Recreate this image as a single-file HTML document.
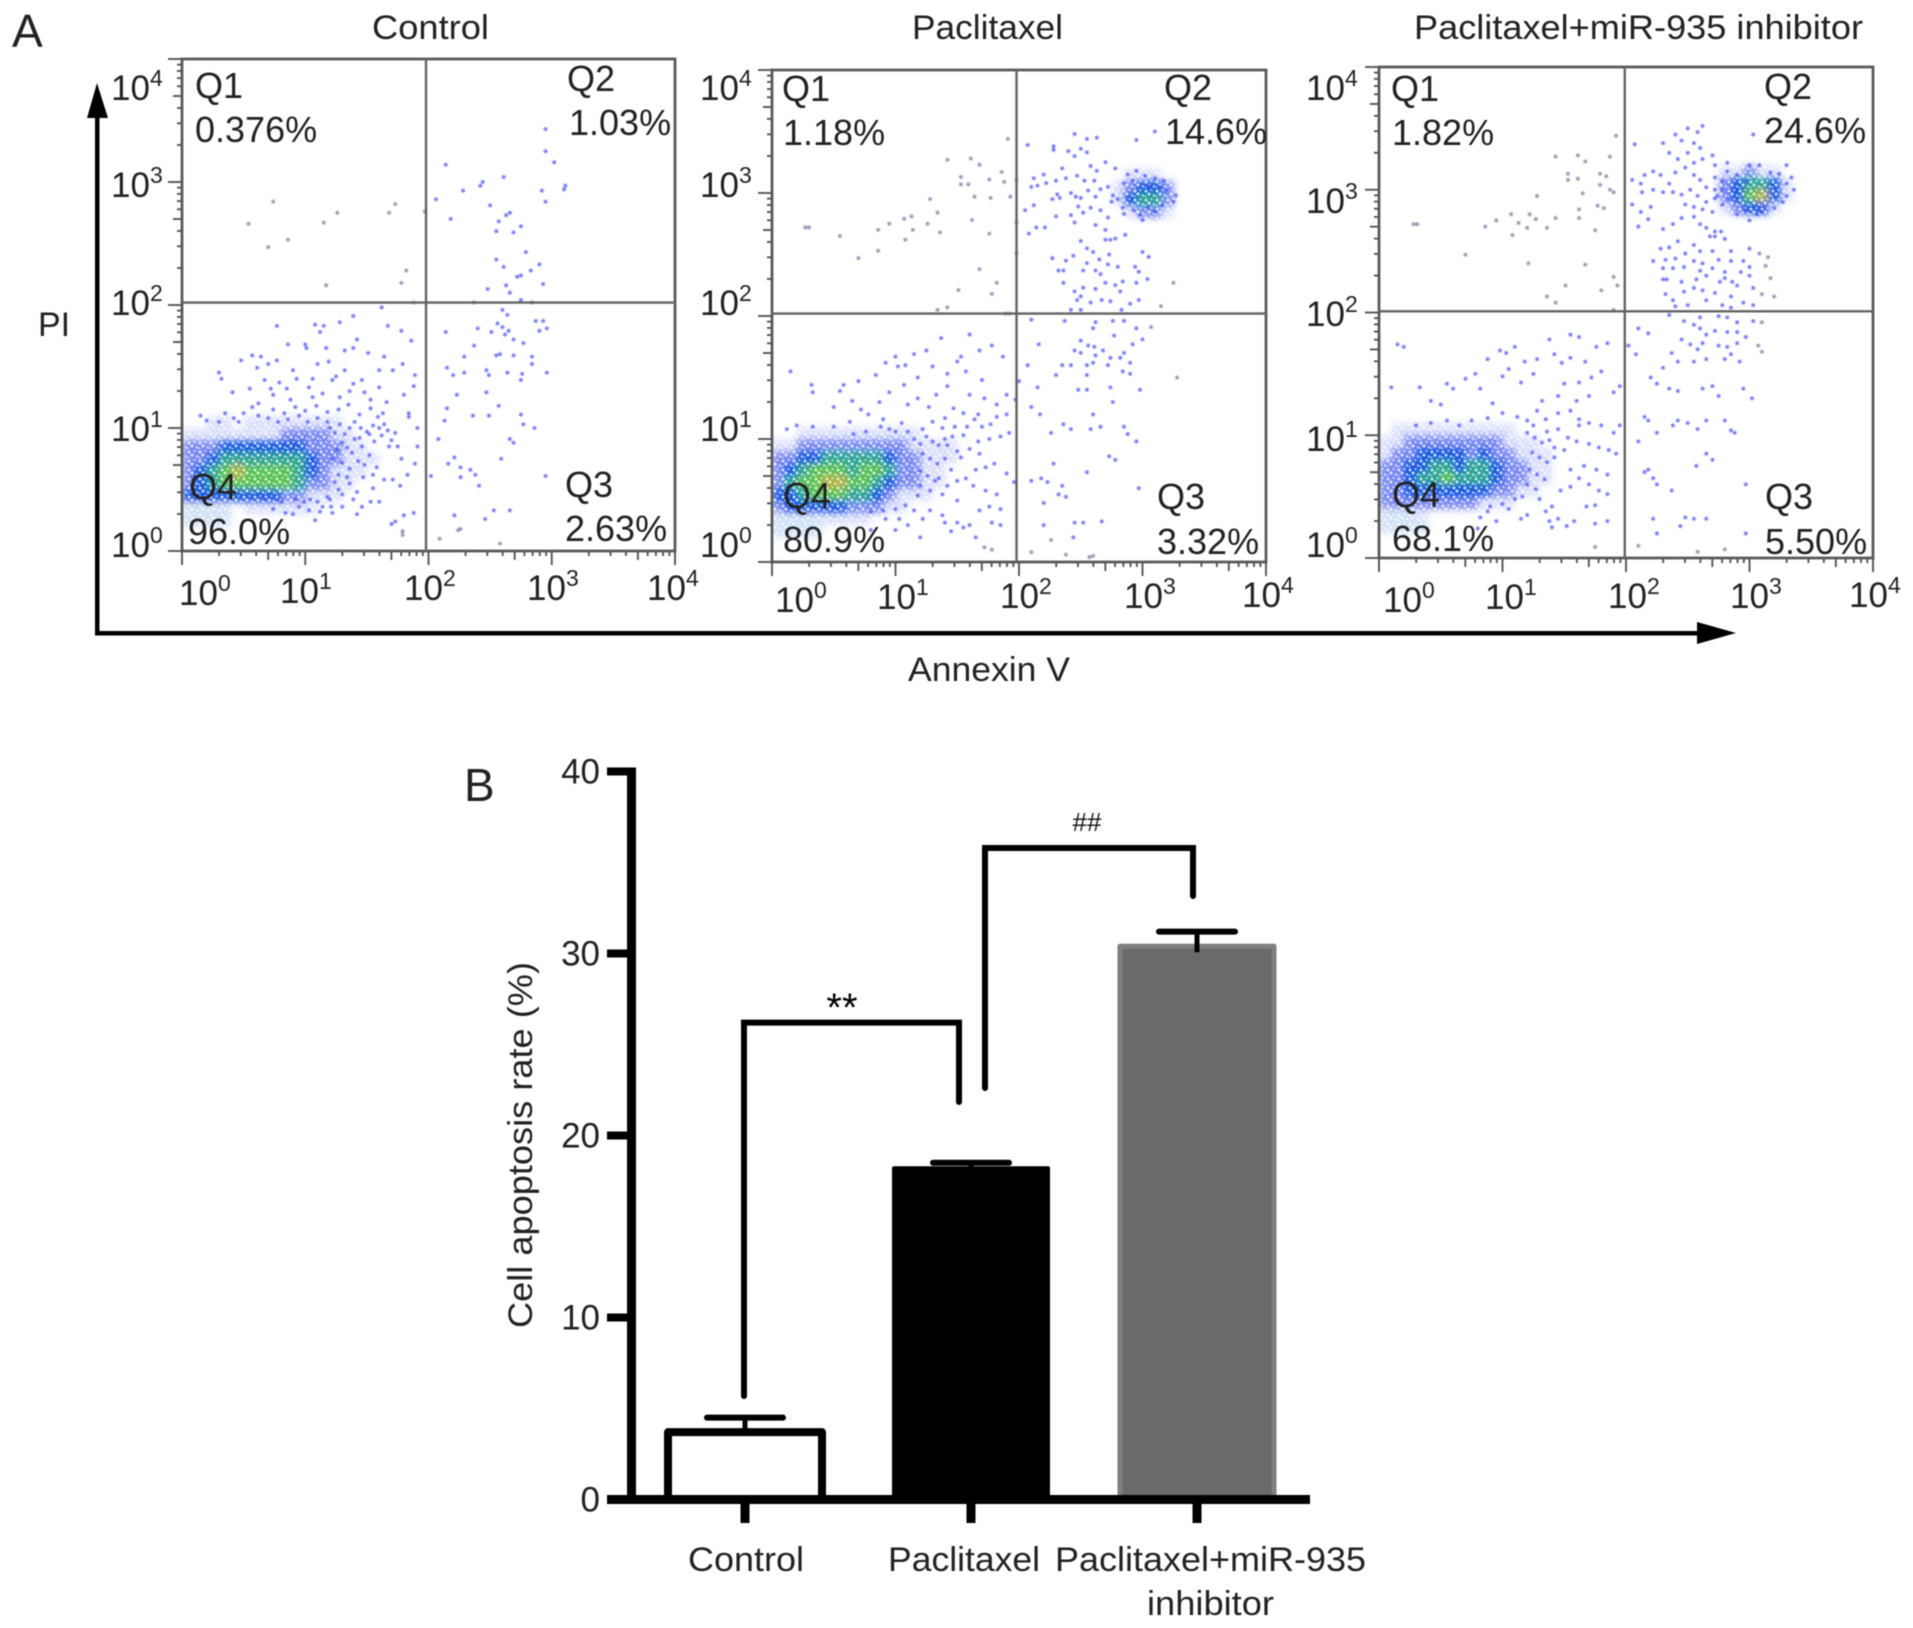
<!DOCTYPE html>
<html lang="en">
<head>
<meta charset="utf-8">
<title>Flow cytometry apoptosis panels and apoptosis rate bars</title>
<style>
html,body{margin:0;padding:0;background:#fff;}
svg{display:block;filter:blur(0.45px);}
text{font-family:"Liberation Sans",sans-serif;fill:#222;}
.tick-sup{font-size:23px;}
</style>
</head>
<body>
<svg id="figure" xmlns="http://www.w3.org/2000/svg" width="1913" height="1628" viewBox="0 0 1913 1628">
<defs>
<filter id="soft" x="-5%" y="-5%" width="110%" height="110%"><feGaussianBlur stdDeviation="0.5"/></filter>
<filter id="densityBlur" x="-10%" y="-10%" width="120%" height="120%"><feGaussianBlur stdDeviation="3.4"/></filter>
<pattern id="speckle" width="11" height="9" patternUnits="userSpaceOnUse">
<circle cx="2" cy="2" r="1.4" fill="#fff" opacity=".8"/>
<circle cx="7.5" cy="1" r="1.1" fill="#fff" opacity=".6"/>
<circle cx="5" cy="5" r="1.5" fill="#fff" opacity=".75"/>
<circle cx="10" cy="6.5" r="1.2" fill="#fff" opacity=".7"/>
<circle cx="1.5" cy="7.5" r="1.0" fill="#fff" opacity=".55"/>
</pattern>
<clipPath id="clip-control"><rect x="182" y="59" width="493" height="492"/></clipPath>
<clipPath id="clip-paclitaxel"><rect x="772" y="70" width="494" height="492"/></clipPath>
<clipPath id="clip-inhibitor"><rect x="1379" y="67" width="494" height="491"/></clipPath>
</defs>
<rect x="0" y="0" width="1913" height="1628" fill="#fff"/>

<text x="12" y="47" font-size="46">A</text>
<text x="464" y="801" font-size="46">B</text>

<text x="372" y="39" font-size="34" textLength="117" lengthAdjust="spacingAndGlyphs">Control</text>
<text x="912" y="39" font-size="34" textLength="151" lengthAdjust="spacingAndGlyphs">Paclitaxel</text>
<text x="1414" y="39" font-size="34" textLength="449" lengthAdjust="spacingAndGlyphs">Paclitaxel+miR-935 inhibitor</text>

<g id="flow-layer"></g>

<g font-size="36">
<text x="195" y="98">Q1</text>
<text x="195" y="142">0.376%</text>
<text x="567" y="91">Q2</text>
<text x="569" y="135">1.03%</text>
<text x="565" y="497">Q3</text>
<text x="565" y="541">2.63%</text>
<text x="189" y="499">Q4</text>
<text x="188" y="544">96.0%</text>
</g>
<g font-size="36">
<text x="782" y="101">Q1</text>
<text x="783" y="145">1.18%</text>
<text x="1164" y="100">Q2</text>
<text x="1165" y="144">14.6%</text>
<text x="1157" y="509">Q3</text>
<text x="1157" y="554">3.32%</text>
<text x="783" y="508">Q4</text>
<text x="783" y="552">80.9%</text>
</g>
<g font-size="36">
<text x="1391" y="101">Q1</text>
<text x="1392" y="145">1.82%</text>
<text x="1764" y="99">Q2</text>
<text x="1764" y="143">24.6%</text>
<text x="1765" y="509">Q3</text>
<text x="1765" y="554">5.50%</text>
<text x="1392" y="507">Q4</text>
<text x="1392" y="551">68.1%</text>
</g>

<g font-size="35">
<text x="111" y="100">10<tspan class="tick-sup" dy="-14">4</tspan></text>
<text x="111" y="197">10<tspan class="tick-sup" dy="-14">3</tspan></text>
<text x="111" y="315">10<tspan class="tick-sup" dy="-14">2</tspan></text>
<text x="111" y="441">10<tspan class="tick-sup" dy="-14">1</tspan></text>
<text x="111" y="557">10<tspan class="tick-sup" dy="-14">0</tspan></text>
<text x="179" y="605">10<tspan class="tick-sup" dy="-14">0</tspan></text>
<text x="280" y="603">10<tspan class="tick-sup" dy="-14">1</tspan></text>
<text x="404" y="600">10<tspan class="tick-sup" dy="-14">2</tspan></text>
<text x="527" y="600">10<tspan class="tick-sup" dy="-14">3</tspan></text>
<text x="647" y="600">10<tspan class="tick-sup" dy="-14">4</tspan></text>
</g>
<g font-size="35">
<text x="700" y="100">10<tspan class="tick-sup" dy="-14">4</tspan></text>
<text x="700" y="197">10<tspan class="tick-sup" dy="-14">3</tspan></text>
<text x="700" y="315">10<tspan class="tick-sup" dy="-14">2</tspan></text>
<text x="700" y="441">10<tspan class="tick-sup" dy="-14">1</tspan></text>
<text x="700" y="557">10<tspan class="tick-sup" dy="-14">0</tspan></text>
<text x="775" y="612">10<tspan class="tick-sup" dy="-14">0</tspan></text>
<text x="877" y="609">10<tspan class="tick-sup" dy="-14">1</tspan></text>
<text x="1000" y="608">10<tspan class="tick-sup" dy="-14">2</tspan></text>
<text x="1124" y="608">10<tspan class="tick-sup" dy="-14">3</tspan></text>
<text x="1242" y="607">10<tspan class="tick-sup" dy="-14">4</tspan></text>
</g>
<g font-size="35">
<text x="1306" y="100">10<tspan class="tick-sup" dy="-14">4</tspan></text>
<text x="1306" y="213">10<tspan class="tick-sup" dy="-14">3</tspan></text>
<text x="1306" y="326">10<tspan class="tick-sup" dy="-14">2</tspan></text>
<text x="1306" y="451">10<tspan class="tick-sup" dy="-14">1</tspan></text>
<text x="1306" y="557">10<tspan class="tick-sup" dy="-14">0</tspan></text>
<text x="1383" y="612">10<tspan class="tick-sup" dy="-14">0</tspan></text>
<text x="1485" y="609">10<tspan class="tick-sup" dy="-14">1</tspan></text>
<text x="1608" y="608">10<tspan class="tick-sup" dy="-14">2</tspan></text>
<text x="1730" y="608">10<tspan class="tick-sup" dy="-14">3</tspan></text>
<text x="1849" y="607">10<tspan class="tick-sup" dy="-14">4</tspan></text>
</g>

<g fill="#000" stroke="none">
<rect x="95" y="112" width="4.5" height="523"/>
<polygon points="97,83 108,118 87,118"/>
<rect x="95" y="631" width="1605" height="4.5"/>
<polygon points="1736,633 1697,622 1697,644"/>
</g>
<text x="38" y="336" font-size="34">PI</text>
<text x="908" y="681" font-size="34" textLength="162" lengthAdjust="spacingAndGlyphs">Annexin V</text>

<g id="bar-layer"></g>

<text transform="translate(532 1328) rotate(-90)" font-size="34" textLength="366" lengthAdjust="spacingAndGlyphs">Cell apoptosis rate (%)</text>
<text x="688" y="1571" font-size="34" textLength="116" lengthAdjust="spacingAndGlyphs">Control</text>
<text x="888" y="1571" font-size="34" textLength="152" lengthAdjust="spacingAndGlyphs">Paclitaxel</text>
<text x="1055" y="1571" font-size="34" textLength="311" lengthAdjust="spacingAndGlyphs">Paclitaxel+miR-935</text>
<text x="1147" y="1615" font-size="34" textLength="127" lengthAdjust="spacingAndGlyphs">inhibitor</text>
<text x="842" y="1021" font-size="40" text-anchor="middle" style="fill:#000">**</text>
<text x="1087" y="831" font-size="26" text-anchor="middle" style="fill:#111">##</text>
</svg>

<script>
// ---------- Panel A: flow-cytometry events as [log10 Annexin V, log10 PI] ----------
const controlEvents = [
[.74,2.84],[.54,2.66],[.70,2.47],[.86,2.53],[1.15,2.67],[1.26,2.75],[1.17,2.16],[1.73,2.82],[1.68,2.75],[1.82,2.28],[1.78,2.18],[1.97,2.76],[2.06,2.86],[2.14,3.14],[2.18,2.70],[2.28,2.93],[2.44,3.0],[2.42,2.97],[2.61,3.04],[2.95,3.43],[2.95,3.25],[3.02,3.16],[3.11,2.97],[3.10,2.94],[2.92,2.93],[2.95,2.84],[2.5,2.81],[2.66,2.75],[2.63,2.73],[2.57,2.68],[2.55,2.6],[2.75,2.64],[2.69,2.59],[2.79,2.43],[2.55,2.37],[2.61,2.31],[2.9,2.33],[2.83,2.28],[2.72,2.23],[2.75,2.24],[2.93,2.17],[2.48,2.13],[2.63,2.16],[2.66,2.1],[1.88,2.02],[2.37,2.02],[2.75,2.04],[2.84,2.02],
[2.6,1.96],[2.64,1.92],[2.56,1.85],[2.6,1.82],[2.62,1.76],[2.65,1.79],[2.51,1.78],[2.4,1.81],[2.87,1.87],[2.93,1.87],[2.96,1.81],[2.9,1.79],[2.14,1.78],[2.37,1.67],[2.69,1.72],[2.77,1.69],[2.55,1.59],[2.58,1.6],[2.29,1.58],[2.69,1.59],[2.84,1.58],[2.84,1.52],[2.15,1.49],[2.29,1.45],[2.2,1.43],[2.49,1.43],[2.47,1.47],[2.64,1.45],[2.75,1.39],[2.76,1.44],[2.96,1.45],[2.47,1.29],[2.23,1.27],[2.57,1.18],[2.15,1.16],[2.13,1.06],[2.36,1.1],[2.49,1.1],[2.75,1.11],[2.77,1.03],[2.86,1.0],[2.08,.91],[2.66,.91],[2.69,.88],[2.21,.76],[2.59,.75],[2.16,.71],[2.26,.68],[2.34,.66],[2.38,.62],[2.26,.6],[2.41,.53],[2.02,.61],[2.95,.61],[2.21,.29],[2.26,.18],[2.24,.17],[2.46,.26],[2.53,.33],[2.66,.33],[2.09,.1],[2.58,.06],
[.77,1.83],[1.08,1.84],[1.15,1.83],[1.12,1.78],[1.28,1.86],[1.39,1.91],[1.62,1.98],[1.67,1.83],[1.78,1.79],[1.86,1.71],[1.0,1.68],[1.01,1.65],[.86,1.68],[1.17,1.65],[1.32,1.63],[1.39,1.65],[1.42,1.72],[1.51,1.61],[1.64,1.58],[1.79,1.52],[.48,1.55],[.57,1.59],[.64,1.58],[.61,1.49],[.7,1.52],[.77,1.55],[.9,1.47],[1.1,1.52],[1.19,1.54],[1.32,1.47],[1.46,1.39],[1.6,1.47],[1.71,1.47],[1.89,1.43],[.3,1.45],[.32,1.4],[.41,1.29],[.55,1.32],[.72,1.32],[.79,1.37],[.85,1.32],[1.06,1.4],[1.22,1.39],[1.39,1.36],[1.6,1.33],[1.8,1.27],[1.88,1.34],[.74,1.27],[.88,1.23],[1.06,1.25],[1.28,1.25],[1.53,1.23],[1.66,1.21],[.93,1.4],[1.03,1.33],[1.14,1.28],[1.25,1.42],[1.36,1.3],[1.48,1.29],[.67,1.39],[.62,1.2],[.74,1.15],[.5,1.12],[.57,1.17],[.42,1.08],[.15,1.1],[.2,1.06],[.35,1.12],[.83,1.12],[.92,1.17],[1.0,1.14],[1.09,1.18],[1.18,1.13],[1.27,1.15],[1.35,1.19],[1.44,1.11],[1.53,1.16],[1.59,1.09],[1.63,1.12],[1.64,1.03],[1.84,1.12],[1.84,1.09],[1.91,1.0],[1.73,.96],[1.68,.85],[1.5,.97],[1.56,.89],[1.62,.94],[1.46,.85],[1.4,.91],[1.52,.78],[1.43,.73],[1.58,.68],[1.64,.58],[1.71,.58],[1.77,.53],[1.89,.71],[1.91,.85],[1.78,.75],[1.83,.62],[1.47,.6],[1.36,.55],[1.27,.5],[1.42,.48],[1.55,.51],[1.2,.42],[1.3,.46],
[.81,.4],[.74,.34],[.84,.31],[.99,.4],[1.03,.33],[1.08,.25],[1.21,.36],[1.22,.31],[1.39,.42],[1.42,.3],[1.53,.4],[1.6,.4],[1.7,.22],[1.73,.24],[1.79,.16],[1.8,.29],[1.88,.31],[1.79,.13],[.9,.3],[.95,.36],[1.1,.4],[1.12,.32],[1.3,.36],[1.46,.36],
[1.2,1.0],[1.24,.96],[1.28,1.03],[1.32,.95],[1.36,1.0],[1.4,1.05],[1.45,1.0],[1.3,.88],[1.34,.84],[1.38,.8],[1.44,.92],[1.26,.82],[1.22,.75],[1.3,.72],[1.36,.67],[1.27,.62],[1.34,.6],[1.24,.56],[1.52,.95],[1.55,1.02],[1.6,1.0],[1.67,.98],[1.7,.9],[1.75,.85],[1.48,.7],[1.55,.62],[1.18,1.05],[1.1,1.08],[1.02,1.05],[.95,1.1],[.86,1.07],[.78,1.05],[.7,1.08],[.62,1.1],[.3,1.05],[.46,1.05],[1.14,.36],[1.18,.44],[1.04,.42],[.92,.42],[.78,.42],[.68,.42]
];
const paclitaxelEvents = [
[.27,2.72],[.3,2.72],[.55,2.65],[.7,2.47],[.86,2.7],[.86,2.53],[.95,2.75],[1.07,2.79],[1.13,2.81],[1.08,2.62],[1.14,2.7],[1.26,2.75],[1.28,2.95],[1.34,2.84],[1.36,2.68],[1.42,3.27],[1.53,3.13],[1.53,3.07],[1.61,3.28],[1.68,3.23],[1.59,3.07],[1.64,2.97],[1.62,2.78],[1.68,2.38],[1.76,3.11],[1.77,2.96],[1.76,2.67],[1.86,3.17],[1.88,3.09],[1.93,2.97],[1.91,3.44],[1.98,3.11],[1.98,2.76],[1.98,2.51],[1.82,2.27],[1.78,2.18],[1.51,2.21],[1.34,2.05],[1.42,2.07],[1.89,2.02],[1.92,2.02],
[2.07,3.39],[2.28,3.38],[2.45,3.48],[2.55,3.44],[2.63,3.45],[2.5,3.36],[2.4,3.34],[2.28,3.35],[2.45,3.3],[2.55,3.33],[2.35,3.2],[2.58,3.22],[2.63,3.18],[2.2,3.15],[2.12,3.12],[2.1,3.05],[2.15,3.06],[2.22,3.08],[2.3,3.1],[2.38,3.12],[2.47,3.14],[2.53,3.1],[2.61,3.1],[2.7,3.25],[2.78,3.2],[2.95,3.43],[3.1,3.5],[2.31,2.99],[2.27,2.95],[2.33,2.96],[2.42,3.0],[2.46,2.97],[2.5,2.96],[2.56,3.02],[2.62,2.97],[2.66,3.03],[2.72,3.05],[2.76,2.98],[2.48,2.89],[2.42,2.82],[2.52,2.84],[2.58,2.88],[2.66,2.86],[2.72,2.8],[2.45,2.76],[2.62,2.74],[2.7,2.7],[2.12,2.9],[2.05,2.86],[2.21,2.72],[2.08,2.67],[2.3,2.81],[2.14,2.72],
[2.88,3.15],[2.95,3.18],[3.02,3.14],[3.1,3.12],[3.17,3.1],[2.85,3.08],[3.2,3.02],[3.27,2.98],[2.75,2.93],[3.25,2.93],[2.85,2.83],[2.98,2.82],[3.1,2.85],[3.0,2.78],[2.92,3.1],[3.05,3.06],[3.14,3.05],[2.8,2.95],[2.84,2.88],[2.93,2.86],[3.04,2.88],[3.16,2.9],
[2.7,2.62],[2.74,2.62],[2.78,2.63],[2.55,2.55],[2.5,2.61],[2.6,2.52],[2.73,2.5],[2.86,2.66],[3.0,2.52],[3.05,2.48],[2.27,2.47],[2.38,2.45],[2.44,2.49],[2.55,2.43],[2.65,2.46],[2.72,2.42],[2.8,2.4],[2.62,2.37],[2.66,2.34],[2.52,2.37],[2.32,2.37],[2.36,2.37],[2.94,2.4],[2.97,2.36],[3.04,2.3],[2.36,2.27],[2.45,2.2],[2.52,2.23],[2.62,2.22],[2.7,2.27],[2.78,2.25],[2.84,2.28],[2.95,2.27],[3.25,2.27],[2.47,2.13],[2.5,2.16],[2.58,2.11],[2.67,2.13],[2.74,2.12],[2.82,2.2],[2.97,2.13],[3.15,2.08],[2.42,2.05],[2.5,2.05],[2.83,2.05],[2.9,2.1],
[2.1,1.97],[2.37,1.96],[2.62,1.95],[2.76,1.96],[2.85,1.96],[2.95,1.9],[3.07,1.91],[2.6,1.9],[2.5,1.8],[2.56,1.76],[2.61,1.75],[2.68,1.72],[2.77,1.84],[2.92,1.77],[3.0,1.81],[2.16,1.77],[2.45,1.72],[2.5,1.7],[2.62,1.68],[2.74,1.66],[2.82,1.66],[2.85,1.7],[2.35,1.6],[2.42,1.6],[2.55,1.6],[2.6,1.62],[2.72,1.6],[2.9,1.62],[2.07,1.6],[2.3,1.52],[2.55,1.52],[2.84,1.55],[2.9,1.53],[3.28,1.5],[2.0,1.47],[2.15,1.42],[2.48,1.4],[2.55,1.4],[2.74,1.42],[2.76,1.3],[2.98,1.4],[2.1,1.26],[2.17,1.2],[2.6,1.2],[2.58,1.08],[2.36,1.12],[2.42,1.08],[2.26,1.05],[2.66,1.1],[2.85,1.1],[2.88,1.04],[2.95,.98],[2.73,.86],[2.78,.83],[2.28,.8],[2.18,.68],[2.23,.65],[2.1,.66],[2.32,.55],[2.38,.53],[2.35,.62],[2.55,.73],[2.2,.48],[2.97,.6],[2.2,.3],[2.26,.18],[2.45,.32],[2.52,.32],[2.67,.33],[2.44,.2],[2.1,.08],[2.38,.06],[2.6,.05],[2.57,.04],
[.15,1.55],[.32,1.44],[.33,1.38],[.55,1.39],[.58,1.44],[.7,1.47],[.5,1.26],[.65,1.31],[.72,1.24],[.84,1.52],[.92,1.62],[1.0,1.67],[1.02,1.59],[1.08,1.6],[1.15,1.69],[1.07,1.44],[.95,1.38],[.87,1.3],[.78,1.2],[.9,1.16],[1.18,1.5],[1.25,1.72],[1.37,1.82],[1.42,1.53],[1.3,1.59],[1.5,1.63],[1.53,1.67],[1.6,1.85],[1.68,1.72],[1.78,1.76],[1.87,1.67],[1.57,1.55],[1.42,1.43],[1.33,1.36],[1.18,1.33],[1.1,1.28],[1.27,1.26],[1.47,1.25],[1.6,1.36],[1.7,1.48],[1.72,1.33],[1.82,1.28],[1.9,1.36],[1.97,1.32],[1.67,1.2],[1.55,1.21],[1.4,1.17],[1.3,1.14],[1.22,1.08],[1.05,1.13],[.95,1.08],[.12,1.08],[.2,1.11],[.33,1.1],[.5,1.1],[.63,1.14],[1.38,1.09],[1.48,1.1],[1.58,1.1],[1.64,1.16],[1.7,1.1],[1.77,1.12],[1.82,1.18],[1.9,1.2],[1.46,1.02],[1.55,1.03],[1.67,.98],[1.76,1.0],[1.85,1.02],[1.92,1.05],[1.6,.92],[1.68,.88],[1.53,.85],[1.42,.95],[1.5,.9],[1.73,.77],[1.8,.8],[1.9,.72],[1.96,.65],[1.65,.75],[1.57,.68],[1.5,.66],[1.42,.62],[1.35,.68],[1.63,.62],[1.73,.58],[1.82,.55],[1.76,.45],[1.85,.43],[1.68,.42],[1.5,.5],[1.38,.55],[1.28,.42],[1.22,.35],[1.15,.42],[1.38,.38],[1.4,.32],[1.5,.32],[1.45,.25],[1.55,.28],[1.6,.3],[1.78,.32],[1.85,.3],[1.72,.12],[1.78,.1],[1.65,.2],[1.03,.35],[1.1,.3],[1.0,.26],[.92,.35],[.8,.26],[1.2,.2],
[1.15,1.0],[1.2,.96],[1.25,1.02],[1.3,.98],[1.35,.95],[1.4,1.0],[1.22,.88],[1.28,.84],[1.34,.8],[1.4,.84],[1.2,.74],[1.26,.7],[1.32,.66],[1.45,.75],[1.2,.62],[1.28,.58],[1.18,.54],[1.1,1.06],[1.0,1.06],[.88,1.1],[.76,1.06],[.66,1.04],[1.08,.46],[1.0,.43],[.9,.42],[.8,.41]
];
const inhibitorEvents = [
[.28,2.72],[.31,2.72],[.7,2.47],[.86,2.7],[.95,2.75],[1.07,2.8],[1.08,2.63],[1.13,2.73],[1.2,2.69],[1.22,2.8],[1.27,2.76],[1.21,2.4],[1.28,2.95],[1.43,3.27],[1.36,2.69],[1.43,2.77],[1.53,3.13],[1.53,3.08],[1.61,3.28],[1.61,3.09],[1.67,3.23],[1.65,2.97],[1.62,2.84],[1.62,2.77],[1.67,2.39],[1.51,2.22],[1.36,2.13],[1.43,2.08],[1.79,3.13],[1.79,3.04],[1.77,2.87],[1.75,2.67],[1.87,3.27],[1.84,3.11],[1.8,2.18],[1.9,2.29],[1.92,3.44],[1.9,2.98],[1.93,2.22],[1.9,2.02],[1.87,3.0],[1.82,2.85],
[2.07,3.37],[2.3,3.38],[2.4,3.45],[2.5,3.5],[2.58,3.47],[2.62,3.52],[2.45,3.4],[2.55,3.38],[2.6,3.34],[2.35,3.3],[2.42,3.25],[2.5,3.3],[2.55,3.22],[2.62,3.25],[2.7,3.28],[2.72,3.2],[2.82,3.22],[2.22,3.15],[2.15,3.12],[2.05,3.08],[2.12,3.05],[2.13,2.98],[2.22,3.0],[2.28,3.12],[2.35,3.05],[2.4,3.14],[2.48,3.18],[2.55,3.12],[2.6,3.08],[2.65,3.02],[2.72,3.1],[2.78,3.07],[2.3,2.98],[2.38,2.98],[2.45,2.96],[2.52,3.0],[2.58,2.95],[2.65,2.9],[2.72,2.93],[2.78,2.88],[2.48,2.88],[2.55,2.86],[2.62,2.84],[2.7,2.82],[2.55,2.78],[2.6,2.72],[2.65,2.69],[2.72,2.66],[2.77,2.66],[2.05,2.88],[2.12,2.82],[2.18,2.76],[2.2,2.86],[2.1,2.7],[2.3,2.68],[2.38,2.72],[2.45,2.77],
[2.82,3.15],[2.9,3.12],[3.0,3.2],[3.08,3.2],[3.17,3.14],[3.24,3.13],[3.3,3.05],[3.36,3.0],[3.3,2.95],[2.78,3.0],[2.83,2.92],[2.9,2.8],[3.0,2.75],[3.1,2.82],[3.2,2.85],[2.97,3.07],[3.3,3.2],[3.03,3.45],[3.34,3.1],[3.27,2.9],[2.72,3.0],[2.74,2.95],[2.96,2.83],[3.06,2.8],
[2.68,2.62],[2.72,2.62],[2.8,2.6],[2.55,2.55],[2.42,2.58],[2.35,2.53],[2.28,2.52],[2.48,2.48],[2.6,2.5],[2.7,2.5],[2.85,2.5],[3.0,2.52],[3.08,2.48],[3.15,2.45],[2.22,2.42],[2.32,2.43],[2.4,2.44],[2.55,2.42],[2.62,2.4],[2.75,2.43],[2.85,2.42],[2.95,2.42],[2.3,2.36],[2.38,2.36],[2.47,2.37],[2.6,2.34],[2.7,2.36],[2.8,2.33],[2.93,2.33],[3.0,2.37],[3.13,2.38],[2.3,2.27],[2.33,2.27],[2.45,2.25],[2.57,2.27],[2.65,2.3],[2.76,2.25],[2.8,2.28],[2.86,2.25],[3.0,2.3],[3.17,2.28],[2.32,2.15],[2.38,2.1],[2.47,2.17],[2.55,2.2],[2.62,2.18],[2.72,2.16],[2.85,2.13],[2.9,2.22],[3.03,2.2],[3.1,2.15],[3.2,2.13],[2.4,2.05],[2.5,2.06],[2.65,2.1],[2.78,2.06],[2.85,2.04],[2.95,2.08],[3.03,2.06],
[2.35,1.98],[2.47,1.93],[2.6,1.96],[2.75,1.97],[2.82,1.96],[2.9,1.92],[3.03,1.93],[3.1,1.92],[2.1,1.87],[2.18,1.83],[2.55,1.9],[2.6,1.87],[2.65,1.82],[2.72,1.85],[2.82,1.84],[2.9,1.84],[2.97,1.8],[3.07,1.73],[2.45,1.78],[2.52,1.74],[2.58,1.7],[2.62,1.75],[2.75,1.73],[2.82,1.72],[2.9,1.75],[3.1,1.68],[2.37,1.67],[2.42,1.6],[2.55,1.6],[2.65,1.62],[2.8,1.62],[2.85,1.66],[2.92,1.6],[2.02,1.73],[2.08,1.66],[2.3,1.55],[2.2,1.47],[2.25,1.42],[2.35,1.38],[2.42,1.36],[2.62,1.38],[2.7,1.4],[2.75,1.32],[2.95,1.38],[3.02,1.3],[2.15,1.15],[2.18,1.12],[2.25,1.02],[2.38,1.08],[2.42,1.12],[2.5,1.1],[2.58,1.05],[2.65,1.12],[2.8,1.12],[2.88,1.02],[2.85,1.04],[2.1,.95],[2.65,.85],[2.7,.8],[2.18,.72],[2.22,.65],[2.15,.7],[2.25,.6],[2.57,.75],[2.37,.55],[2.97,.6],[2.22,.32],[2.25,.2],[2.48,.33],[2.55,.32],[2.65,.32],[2.44,.26],[2.1,.1],[2.58,.05],[2.8,.07],[2.97,.2],[1.75,.09],
[.15,1.74],[.2,1.72],[.1,1.39],[.33,1.39],[.42,1.28],[.55,1.42],[.6,1.38],[.5,1.25],[.7,1.46],[.78,1.5],[.88,1.62],[.98,1.69],[.82,1.38],[.92,1.26],[1.0,1.48],[1.03,1.67],[1.05,1.54],[1.1,1.72],[1.18,1.6],[1.25,1.5],[1.15,1.43],[1.28,1.62],[1.38,1.78],[1.42,1.66],[1.48,1.59],[1.55,1.63],[1.55,1.82],[1.5,1.42],[1.62,1.8],[1.67,1.6],[1.62,1.43],[1.76,1.72],[1.85,1.75],[1.72,1.47],[1.8,1.52],[1.9,1.35],[1.95,1.4],[1.7,1.32],[1.6,1.28],[1.45,1.32],[1.32,1.28],[1.28,1.2],[1.2,1.12],[1.35,1.13],[1.45,1.18],[1.55,1.2],[1.62,1.13],[1.7,1.1],[1.62,1.08],[1.8,1.08],[1.9,1.02],[1.95,1.08],[.3,1.08],[.42,1.1],[.55,1.12],[.65,1.08],[.75,1.12],[.88,1.14],[1.0,1.18],[1.12,1.15],[1.25,1.08],[1.36,1.03],[1.45,1.05],[1.53,.98],[1.6,.95],[1.7,.93],[1.78,.9],[1.86,.88],[1.92,.85],[1.5,.88],[1.42,.9],[1.66,.75],[1.76,.72],[1.85,.68],[1.55,.72],[1.62,.65],[1.7,.6],[1.78,.55],[1.55,.58],[1.47,.55],[1.85,.52],[1.75,.43],[1.68,.42],[1.4,.42],[1.35,.38],[1.3,.48],[1.38,.3],[1.4,.25],[1.45,.32],[1.52,.26],[1.58,.3],[1.75,.28],[1.85,.3],[1.2,.35],[1.05,.4],[1.15,.32],[.82,.33],[.95,.3],[.8,.24],[.88,.38],
[1.2,1.02],[1.26,.98],[1.32,.94],[1.38,.96],[1.24,.86],[1.3,.82],[1.36,.78],[1.42,.82],[1.22,.72],[1.28,.68],[1.34,.64],[1.2,.6],[1.27,.56],[1.16,.5],[1.1,.48],[1.0,.44],[.9,.42]
];
// Density bins, 0.1-decade wide. Values index densityColors; first row is the highest PI bin.
const controlCoreDensity = [
[0,0,1,1,0,1,1,1,1,1,1,1,1,0,0,0,0,0],
[1,1,1,1,1,1,1,1,2,2,2,2,1,1,0,0,0,0],
[2,2,2,3,3,3,3,3,3,3,2,2,2,1,1,0,0,0],
[2,2,3,4,4,4,4,4,4,4,3,2,2,1,1,1,0,0],
[2,3,4,5,6,5,5,5,5,4,3,2,1,1,1,0,0,0],
[2,3,4,5,5,5,5,5,5,4,2,2,1,1,0,0,0,0],
[3,3,3,3,3,3,3,3,2,2,1,1,1,0,0,0,0,0],
[7,7,7,7,0,1,1,1,1,1,1,0,0,0,0,0,0,0],
[7,7,7,7,0,0,0,0,0,0,0,0,0,0,0,0,0,0]
];
const paclitaxelCoreDensity = [
[0,0,1,1,1,1,1,1,1,1,1,1,0,0,0,0,0,0],
[1,1,2,2,2,2,2,2,2,2,2,1,1,1,1,0,0,0],
[2,2,3,3,4,4,4,4,4,3,2,2,1,1,1,0,0,0],
[2,3,4,5,5,5,4,5,5,4,2,2,1,1,0,0,0,0],
[2,4,5,5,6,6,5,5,4,3,2,2,1,1,0,0,0,0],
[3,3,4,5,5,5,4,4,3,2,1,1,1,0,0,0,0,0],
[2,3,3,3,3,3,2,2,2,1,1,0,0,0,0,0,0,0],
[7,7,7,7,1,1,1,1,0,0,0,0,0,0,0,0,0,0],
[7,7,7,7,0,0,0,0,0,0,0,0,0,0,0,0,0,0]
];
const inhibitorCoreDensity = [
[0,1,1,1,1,1,1,1,1,1,1,0,0,0,0,0,0,0],
[1,1,2,2,2,2,2,2,2,2,1,1,1,0,0,0,0,0],
[1,2,2,3,3,3,3,2,3,2,2,1,1,1,0,0,0,0],
[2,2,3,3,4,4,3,4,4,3,2,2,1,1,0,0,0,0],
[2,2,3,4,4,5,4,4,4,3,2,2,1,1,0,0,0,0],
[2,2,3,3,3,3,3,3,3,2,2,1,1,0,0,0,0,0],
[2,2,2,2,2,2,2,2,1,1,1,0,0,0,0,0,0,0],
[7,7,7,1,0,0,0,0,0,0,0,0,0,0,0,0,0,0],
[7,7,7,7,0,0,0,0,0,0,0,0,0,0,0,0,0,0]
];
const paclitaxelClusterDensity = [
[0,1,1,1,0,0],
[1,2,3,3,2,0],
[1,3,4,4,2,0],
[0,1,2,2,1,0]
];
const inhibitorClusterDensity = [
[1,1,2,1,1,0],
[2,3,4,4,3,1],
[2,3,5,6,3,1],
[1,2,3,3,1,0]
];
const densityColors = [null,'rgba(90,110,250,.2)','rgba(45,70,235,.6)','rgb(30,90,225)','rgb(45,165,150)','rgb(90,195,85)','rgb(180,180,70)','rgba(170,200,240,.5)'];
const decades = [0,1,2,3,4];
const controlGate = [1.98,2.02];
const paclitaxelGate = [1.98,2.02];
const inhibitorGate = [1.99,2.01];

// ---------- Panel B ----------
const barGroups = ['Control','Paclitaxel','Paclitaxel+miR-935 inhibitor'];
const barMeans = [3.7,18.2,30.4];
const barErrors = [.8,.3,.8];
const barYTicks = [0,10,20,30,40];
const bracketTops = [26.2,35.8];

const SVGNS = 'http://www.w3.org/2000/svg';
function mk(tag, parent, props){
  const el = document.createElementNS(SVGNS, tag);
  for (const k in props) el.setAttribute(k, props[k]);
  parent.appendChild(el);
  return el;
}

function drawFlowPanel(key, layout, events, coreDensity, clusterDensity, gate){
  const root = document.getElementById('flow-layer');
  const g = mk('g', root, {});
  
  
  const xS = v => layout.x0 + v * (layout.x1 - layout.x0) / 4;
  const yS = v => layout.y0 - v * (layout.y0 - layout.y1) / 4;

  const plot = mk('g', g, {'clip-path': 'url(#clip-' + key + ')'});
  
  

  const dens = mk('g', plot, {filter: 'url(#densityBlur)'});
  
  
  coreDensity.forEach((row, r) => row.forEach((v, c) => {
    if (!v) return;
    const cell = mk('rect', dens, {x: xS(c * .1), y: yS(1.1 - r * .1), width: xS(.1) - xS(0) + .5, height: yS(0) - yS(.1) + .5, fill: densityColors[v]});
    
    
  }));
  if (clusterDensity) clusterDensity.forEach((row, r) => row.forEach((v, c) => {
    if (!v) return;
    const cell = mk('rect', dens, {x: xS(2.75 + c * .1), y: yS(3.2 - r * .1), width: xS(.1) - xS(0) + .5, height: yS(0) - yS(.1) + .5, fill: densityColors[v]});
    
    
  }));

  const grain = mk('rect', plot, {x: layout.x0, y: layout.y1, width: layout.x1 - layout.x0, height: layout.y0 - layout.y1, fill: 'url(#speckle)'});
  
  

  const pts = mk('g', plot, {filter: 'url(#soft)'});
  
  
  events.forEach(e => {
    const sparse = (e[0] < 2 && e[1] > 2) || e[1] < .2 || (e[0] > 3.05 && e[1] < 2.6);
    const dot = mk('circle', pts, {cx: xS(e[0]), cy: yS(e[1]), r: 1.9, fill: sparse ? 'rgba(110,110,150,.72)' : 'rgba(65,75,240,.75)'});
    
    
  });

  const frame = mk('rect', g, {x: layout.x0, y: layout.y1, width: layout.x1 - layout.x0, height: layout.y0 - layout.y1, fill: 'none', stroke: '#5a5a5a', 'stroke-width': 2.8});
  
  
  const gv = mk('line', g, {x1: xS(gate[0]), x2: xS(gate[0]), y1: layout.y1, y2: layout.y0, stroke: '#636363', 'stroke-width': 2.4});
  
  
  const gh = mk('line', g, {x1: layout.x0, x2: layout.x1, y1: yS(gate[1]), y2: yS(gate[1]), stroke: '#636363', 'stroke-width': 2.4});
  
  

  const ticks = mk('g', g, {stroke: '#555', 'stroke-width': 1.9});
  
  
  decades.forEach(d => {
    const xt = mk('line', ticks, {x1: xS(d), x2: xS(d), y1: layout.y0, y2: layout.y0 + 14});
    
    
    const yt = mk('line', ticks, {x1: layout.x0 - 14, x2: layout.x0, y1: yS(d), y2: yS(d)});
    
    
    if (d === 4) return;
    for (let m = 2; m < 10; m++) {
      const off = d + Math.log10(m);
      const len = m === 5 ? 9 : 5;
      const xm = mk('line', ticks, {x1: xS(off), x2: xS(off), y1: layout.y0, y2: layout.y0 + len});
      
      
      const ym = mk('line', ticks, {x1: layout.x0 - len, x2: layout.x0, y1: yS(off), y2: yS(off)});
      
      
    }
  });
}

drawFlowPanel('control', {x0: 182, x1: 675, y0: 551, y1: 59}, controlEvents, controlCoreDensity, null, controlGate);
drawFlowPanel('paclitaxel', {x0: 772, x1: 1266, y0: 562, y1: 70}, paclitaxelEvents, paclitaxelCoreDensity, paclitaxelClusterDensity, paclitaxelGate);
drawFlowPanel('inhibitor', {x0: 1379, x1: 1873, y0: 558, y1: 67}, inhibitorEvents, inhibitorCoreDensity, inhibitorClusterDensity, inhibitorGate);

(function drawBars(){
  const root = document.getElementById('bar-layer');
  const yB = v => 1499.5 - v * 18.2;
  const centers = [745, 971, 1197];
  const barHalf = 77;

  const rects = mk('g', root, {});
  
  
  const styles = [
    {fill: '#fff', stroke: '#000', sw: 8},
    {fill: '#000', stroke: '#000', sw: 4},
    {fill: '#6a6a6a', stroke: '#7f7f7f', sw: 5}
  ];
  barGroups.forEach((name, i) => {
    const err = mk('line', rects, {x1: centers[i], x2: centers[i], y1: yB(barMeans[i]) + (i === 2 ? 6 : 0), y2: yB(barMeans[i] + barErrors[i]), stroke: '#000', 'stroke-width': 5});
    
    
    const s = styles[i];
    const bar = mk('rect', rects, {x: centers[i] - barHalf, y: yB(barMeans[i]), width: barHalf * 2, height: yB(0) - yB(barMeans[i]), fill: s.fill, stroke: s.stroke, 'stroke-width': s.sw, 'stroke-linejoin': 'round'});
    
    
    if (i === 2) {
      const stem2 = mk('line', rects, {x1: centers[i], x2: centers[i], y1: yB(barMeans[i]) + 6, y2: yB(barMeans[i] + barErrors[i]), stroke: '#000', 'stroke-width': 5});
      
      
    }
    const cap = mk('line', rects, {x1: centers[i] - 38, x2: centers[i] + 38, y1: yB(barMeans[i] + barErrors[i]), y2: yB(barMeans[i] + barErrors[i]), stroke: '#000', 'stroke-width': 6, 'stroke-linecap': 'round'});
    
    
  });

  const yAxis = mk('line', root, {x1: 631.5, x2: 631.5, y1: yB(40) - 4, y2: yB(0) + 4, stroke: '#000', 'stroke-width': 9});
  
  
  const xAxis = mk('line', root, {x1: 607, x2: 1310, y1: yB(0), y2: yB(0), stroke: '#000', 'stroke-width': 9});
  
  

  barYTicks.forEach(t => {
    const tick = mk('line', root, {x1: 607, x2: 631, y1: yB(t), y2: yB(t), stroke: '#000', 'stroke-width': 8});
    
    
    const lab = mk('text', root, {x: 600, y: yB(t) + 12, 'font-size': 35, 'text-anchor': 'end'});
    lab.textContent = String(t);
    
    
  });
  centers.forEach(c => {
    const tick = mk('line', root, {x1: c, x2: c, y1: yB(0), y2: 1523, stroke: '#000', 'stroke-width': 9});
    
    
  });

  const b1 = mk('path', root, {d: 'M744 1396V' + yB(bracketTops[0]) + 'H959V1102', fill: 'none', stroke: '#000', 'stroke-width': 6, 'stroke-linecap': 'round'});
  
  
  const b2 = mk('path', root, {d: 'M985 1088V' + yB(bracketTops[1]) + 'H1193V896', fill: 'none', stroke: '#000', 'stroke-width': 6, 'stroke-linecap': 'round'});
  
  
})();
</script>
</body>
</html>
